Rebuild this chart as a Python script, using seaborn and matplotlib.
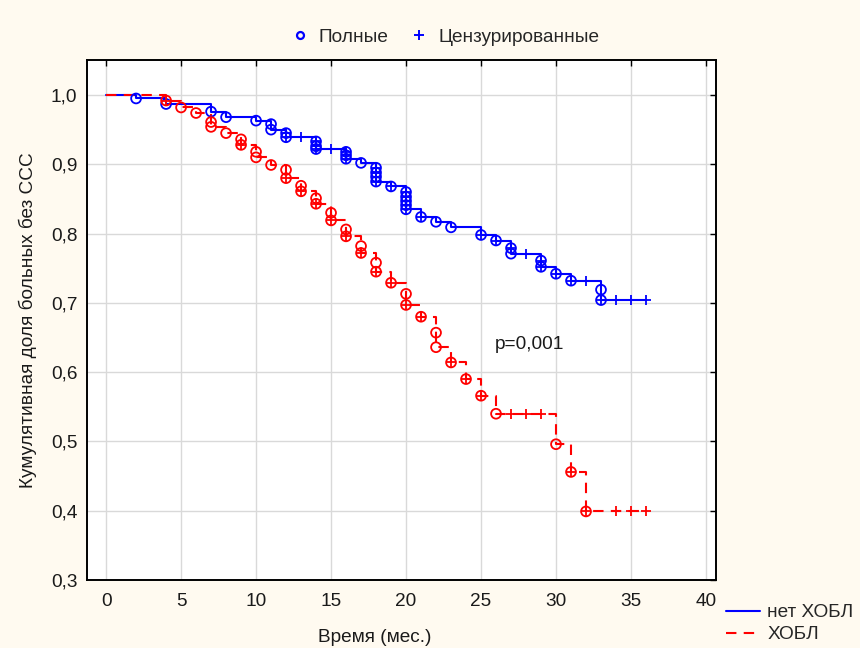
import numpy as np
import pandas as pd
import matplotlib
matplotlib.use("Agg")
import matplotlib.pyplot as plt
from matplotlib.lines import Line2D
from matplotlib.markers import MarkerStyle
import seaborn as sns

# Reading of the Kaplan-Meier curves (time in months, cumulative share)
blue_event_t = [2, 4, 7, 8, 10, 11, 11, 12, 12, 14, 14, 14, 16, 16, 16, 17, 18, 18, 18, 18,
                19, 20, 20, 20, 20, 20, 21, 22, 23, 25, 26, 27, 27, 29, 29, 30, 31, 33, 33]
blue_event_s = [0.995, 0.987, 0.976, 0.968, 0.963, 0.958, 0.950, 0.945, 0.939, 0.933, 0.926,
                0.922, 0.918, 0.913, 0.908, 0.902, 0.895, 0.888, 0.882, 0.875, 0.868, 0.860,
                0.853, 0.847, 0.841, 0.835, 0.824, 0.817, 0.809, 0.798, 0.790, 0.779, 0.771,
                0.761, 0.752, 0.742, 0.732, 0.719, 0.704]
blue_cens_t = [12, 12, 13, 14, 14, 14, 15, 16, 16, 16, 18, 18, 18, 18, 19, 20, 20, 20, 20, 20,
               21, 25, 26, 27, 28, 29, 29, 30, 31, 32, 33, 34, 35, 36]
blue_cens_s = [0.945, 0.939, 0.939, 0.933, 0.926, 0.922, 0.922, 0.918, 0.913, 0.908, 0.895,
               0.888, 0.882, 0.875, 0.868, 0.860, 0.853, 0.847, 0.841, 0.835, 0.824, 0.798,
               0.790, 0.779, 0.771, 0.761, 0.752, 0.742, 0.732, 0.732, 0.704, 0.704, 0.704, 0.704]

red_event_t = [4, 5, 6, 7, 7, 8, 9, 9, 10, 10, 11, 12, 12, 13, 13, 14, 14, 15, 15, 16, 16, 17,
               17, 18, 18, 19, 20, 20, 21, 22, 22, 23, 24, 25, 26, 30, 31, 32]
red_event_s = [0.992, 0.982, 0.974, 0.961, 0.954, 0.945, 0.936, 0.928, 0.918, 0.910, 0.899,
               0.892, 0.880, 0.869, 0.861, 0.851, 0.843, 0.830, 0.819, 0.806, 0.796, 0.782,
               0.772, 0.758, 0.745, 0.729, 0.713, 0.697, 0.680, 0.657, 0.636, 0.614, 0.590,
               0.566, 0.540, 0.496, 0.456, 0.399]
red_cens_t = [4, 9, 12, 13, 14, 15, 16, 17, 18, 19, 20, 21, 23, 24, 25, 27, 28, 29, 31, 32,
              34, 35, 36]
red_cens_s = [0.992, 0.928, 0.880, 0.861, 0.843, 0.819, 0.796, 0.772, 0.745, 0.729, 0.697,
              0.680, 0.614, 0.590, 0.566, 0.540, 0.540, 0.540, 0.456, 0.399, 0.399, 0.399, 0.399]

groups = ["нет ХОБЛ", "ХОБЛ"]
colors = {"нет ХОБЛ": "#0000ff", "ХОБЛ": "#ff0000"}
x_ticks = [0, 5, 10, 15, 20, 25, 30, 35, 40]
y_ticks = [0.3, 0.4, 0.5, 0.6, 0.7, 0.8, 0.9, 1.0]


def step_frame(ev_t, ev_s, end_t, name):
    # curve drops to the lowest level reached at each event time
    d = pd.DataFrame({"t": ev_t, "s": ev_s}).groupby("t")["s"].min().reset_index()
    start = pd.DataFrame({"t": [0], "s": [1.0]})
    end = pd.DataFrame({"t": [end_t], "s": [d["s"].iloc[-1]]})
    out = pd.concat([start, d, end], ignore_index=True)
    out["group"] = name
    return out


steps = {
    "нет ХОБЛ": step_frame(blue_event_t, blue_event_s, max(blue_cens_t), "нет ХОБЛ"),
    "ХОБЛ": step_frame(red_event_t, red_event_s, max(red_cens_t), "ХОБЛ"),
}
events = {"нет ХОБЛ": (blue_event_t, blue_event_s), "ХОБЛ": (red_event_t, red_event_s)}
cens = {"нет ХОБЛ": (blue_cens_t, blue_cens_s), "ХОБЛ": (red_cens_t, red_cens_s)}

FS = 13.7
sns.set_theme(style="whitegrid")
plt.rcParams["font.family"] = ["Liberation Sans", "DejaVu Sans"]
plt.rcParams["font.size"] = FS

fig = plt.figure(figsize=(8.6, 6.48), dpi=100, facecolor="#fffaf0")
ax = fig.add_axes([0.1012, 0.1049, 0.7314, 0.8025])
ax.set_facecolor("white")

dash = (0, (5, 3.5))
styles = {"нет ХОБЛ": "-", "ХОБЛ": dash}
for g in groups:
    sns.lineplot(data=steps[g], x="t", y="s", ax=ax, color=colors[g], estimator=None,
                 sort=False, drawstyle="steps-post", linewidth=1.5, linestyle=styles[g],
                 zorder=3)

circle = MarkerStyle("o", fillstyle="none")
for g in groups:
    et, es = events[g]
    sns.scatterplot(x=et, y=es, ax=ax, marker=circle, s=50, color=colors[g],
                    linewidth=1.3, zorder=4)
    ct, cs = cens[g]
    sns.scatterplot(x=ct, y=cs, ax=ax, marker="+", s=55, color=colors[g],
                    linewidth=1.3, zorder=4)

ax.text(25.9, 0.640, "p=0,001", fontsize=FS, ha="left", va="center", color="#1a1a1a")

ax.set_xlim(-1.27, 40.67)
ax.set_ylim(0.3, 1.0505)
ax.set_xticks(x_ticks)
ax.set_yticks(y_ticks)
ax.set_yticklabels([f"{v:.1f}".replace(".", ",") for v in y_ticks])
ax.grid(True, color="#d9d9d9", linewidth=1.0)
ax.tick_params(direction="in", length=4, width=1, color="black", top=True, right=True,
               labelsize=FS, labelcolor="#1a1a1a", pad=7)
ax.tick_params(axis="x", pad=9)
for sp in ax.spines.values():
    sp.set_color("black")
    sp.set_linewidth(1.4)

ax.set_xlabel("Время (мес.)", fontsize=FS, color="#1a1a1a", x=0.458, labelpad=14)
ax.set_ylabel("Кумулятивная доля больных без ССС", fontsize=FS, color="#1a1a1a",
              labelpad=10)

top_handles = [
    Line2D([], [], linestyle="none", marker=circle, markersize=5, markeredgewidth=1.6,
           color="#0000ff"),
    Line2D([], [], linestyle="none", marker="+", markersize=7, markeredgewidth=1.4,
           color="#0000ff"),
]
fig.legend(top_handles, ["Полные", "Цензурированные"], ncol=2, loc="center",
           bbox_to_anchor=(0.517, 0.943), frameon=False, fontsize=FS,
           handlelength=1.0, handletextpad=0.5, columnspacing=1.1)

line_handles = [
    Line2D([], [], color="#0000ff", linewidth=1.5),
    Line2D([], [], color="#ff0000", linewidth=1.5, linestyle=dash),
]
fig.legend(line_handles, groups, loc="upper left", bbox_to_anchor=(0.844, 0.0679),
           frameon=False, fontsize=FS, handlelength=1.8, handletextpad=0.37,
           labelspacing=0.25, borderaxespad=0, borderpad=0)

fig.savefig("out.png", dpi=100, facecolor=fig.get_facecolor())
